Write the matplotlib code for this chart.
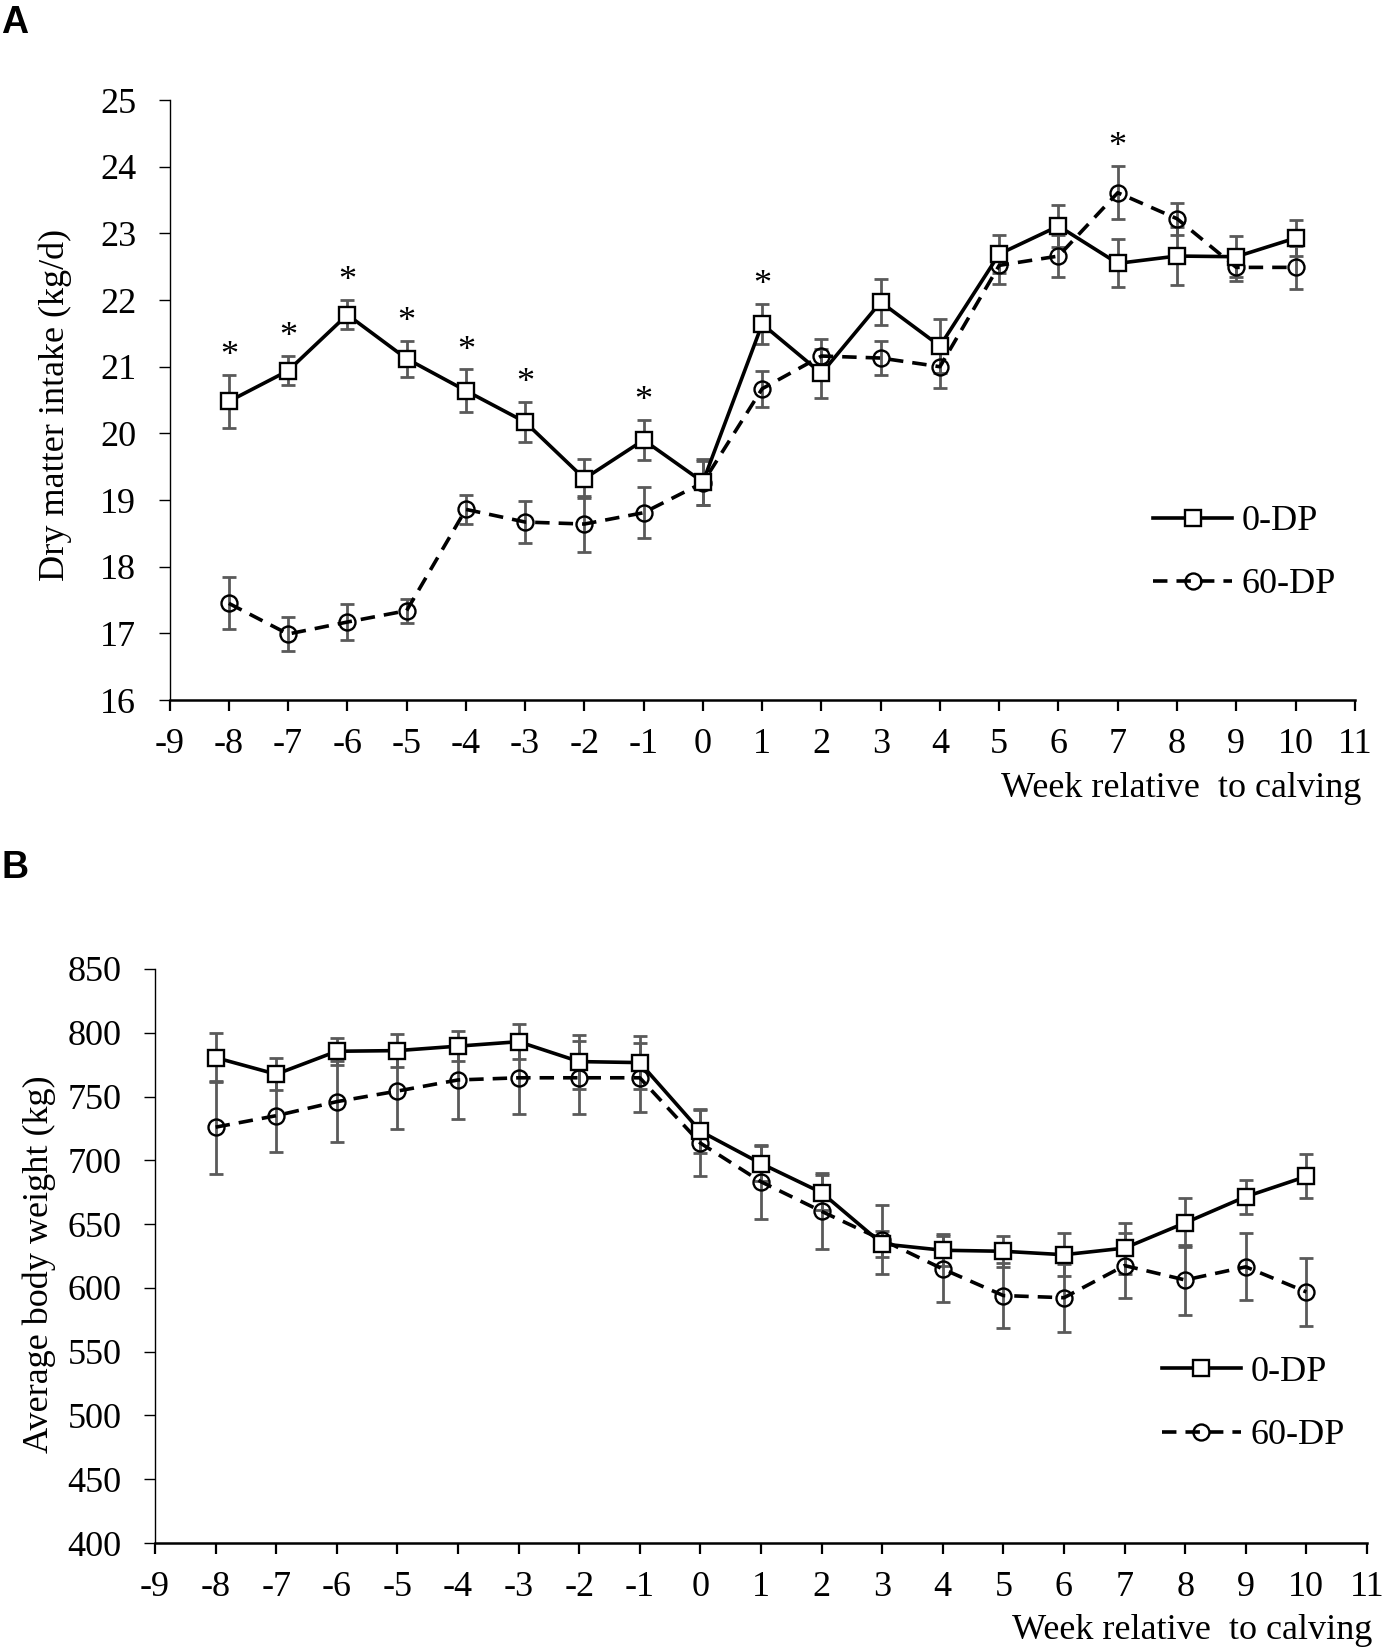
import numpy as np
import matplotlib
matplotlib.use("Agg")
import matplotlib.pyplot as plt

plt.rcParams['font.family'] = ['Liberation Serif', 'DejaVu Serif']
plt.rcParams['axes.unicode_minus'] = False

weeks = [-8, -7, -6, -5, -4, -3, -2, -1, 0, 1, 2, 3, 4, 5, 6, 7, 8, 9, 10]
xticks = list(range(-9, 12))

# panel A: dry matter intake (kg/d)
dmi_0dp = [20.48, 20.94, 21.78, 21.12, 20.64, 20.17, 19.32, 19.90, 19.27, 21.64,
           20.90, 21.97, 21.31, 22.69, 23.11, 22.55, 22.66, 22.65, 22.93]
dmi_0dp_se = [0.40, 0.22, 0.22, 0.27, 0.32, 0.30, 0.29, 0.30, 0.35, 0.30,
              0.37, 0.35, 0.40, 0.29, 0.32, 0.36, 0.43, 0.31, 0.27]
dmi_60dp = [17.45, 16.99, 17.17, 17.34, 18.86, 18.67, 18.64, 18.81, 19.26, 20.67,
            21.16, 21.13, 21.00, 22.52, 22.66, 23.61, 23.22, 22.49, 22.49]
dmi_60dp_se = [0.39, 0.26, 0.27, 0.18, 0.22, 0.32, 0.42, 0.38, 0.33, 0.27,
               0.25, 0.25, 0.32, 0.28, 0.32, 0.40, 0.24, 0.20, 0.32]
dmi_signif = [-8, -7, -6, -5, -4, -3, -1, 1, 7]

# panel B: body weight (kg)
bw_0dp = [780.5, 767.5, 785.5, 786.0, 789.5, 793.0, 777.4, 776.6, 722.8, 697.5,
          674.7, 634.5, 629.5, 628.7, 626.0, 631.2, 651.0, 671.5, 687.4]
bw_0dp_se = [19.4, 12.4, 10.4, 13.0, 11.7, 13.7, 21.2, 20.5, 17.3, 13.7,
             14.0, 10.0, 12.5, 12.0, 17.0, 20.0, 19.3, 13.4, 17.3]
bw_60dp = [726.0, 735.0, 746.0, 754.3, 763.0, 764.7, 764.7, 764.7, 713.5, 683.2,
           660.0, 637.7, 614.8, 594.0, 592.3, 617.5, 606.2, 616.5, 596.8]
bw_60dp_se = [36.5, 28.5, 31.9, 29.8, 30.6, 28.5, 28.5, 27.2, 25.9, 29.2,
              29.8, 27.2, 25.6, 25.3, 26.8, 25.3, 27.7, 26.2, 27.0]

fs = 26
err_col = '#5a5a5a'

fig = plt.figure(figsize=(13.83, 16.51), dpi=100)
axA = fig.add_axes([0.1226, 0.5760, 0.8570, 0.3634])
axB = fig.add_axes([0.1121, 0.0654, 0.8763, 0.3477])


def draw_panel(ax, y0, e0, y1, e1, ylim, yticks):
    ax.errorbar(weeks, y0, yerr=e0, fmt='none', ecolor=err_col, elinewidth=2.0,
                capsize=5, capthick=2.0, zorder=1)
    ax.errorbar(weeks, y1, yerr=e1, fmt='none', ecolor=err_col, elinewidth=2.0,
                capsize=5, capthick=2.0, zorder=1)
    ax.plot(weeks, y1, color='black', lw=2.6, ls=(0, (4, 2.5)), marker='o',
            ms=11.5, mfc='none', mec='black', mew=1.7, label='60-DP', zorder=3)
    ax.plot(weeks, y0, color='black', lw=2.6, ls='-', marker='s',
            ms=12, mfc='white', mec='black', mew=1.7, label='0-DP', zorder=4)
    ax.set_xlim(-9, 11)
    ax.set_ylim(*ylim)
    ax.set_xticks(xticks)
    ax.set_yticks(yticks)
    for s in ['top', 'right']:
        ax.spines[s].set_visible(False)
    ax.spines['left'].set_linewidth(1.0)
    ax.spines['bottom'].set_linewidth(1.8)
    ax.tick_params(axis='x', direction='out', length=8, width=1.6, pad=12, labelsize=fs)
    ax.tick_params(axis='y', direction='out', length=8, width=1.0, pad=16, labelsize=fs)
    h, l = ax.get_legend_handles_labels()
    return h[::-1], l[::-1]


h, l = draw_panel(axA, dmi_0dp, dmi_0dp_se, dmi_60dp, dmi_60dp_se, (16, 25), range(16, 26))
axA.legend(h, l, loc='upper left', bbox_to_anchor=(0.8337, 0.6942),
           bbox_transform=fig.transFigure, frameon=False, fontsize=fs,
           handlelength=2.2, handletextpad=0.25, borderpad=0, borderaxespad=0,
           labelspacing=0.83)
for wk in dmi_signif:
    i = weeks.index(wk)
    top = max(dmi_0dp[i] + dmi_0dp_se[i], dmi_60dp[i] + dmi_60dp_se[i])
    axA.annotate('*', xy=(wk, top), xytext=(0, 7), textcoords='offset points',
                 ha='center', va='baseline', fontsize=fs)
axA.set_ylabel('Dry matter intake (kg/d)', fontsize=fs, va='center')
axA.yaxis.set_label_coords(-0.0967, 0.491)
axA.set_xlabel('Week relative  to calving', fontsize=fs, ha='right', va='center')
axA.xaxis.set_label_coords(1.0053, -0.1467)

h, l = draw_panel(axB, bw_0dp, bw_0dp_se, bw_60dp, bw_60dp_se, (400, 850), range(400, 851, 50))
axB.legend(h, l, loc='upper left', bbox_to_anchor=(0.840, 0.1788),
           bbox_transform=fig.transFigure, frameon=False, fontsize=fs,
           handlelength=2.2, handletextpad=0.25, borderpad=0, borderaxespad=0,
           labelspacing=0.83)
axB.set_ylabel('Average body weight (kg)', fontsize=fs, va='center')
axB.yaxis.set_label_coords(-0.0957, 0.486)
axB.set_xlabel('Week relative  to calving', fontsize=fs, ha='right', va='center')
axB.xaxis.set_label_coords(1.0041, -0.1516)

fig.text(0.001, 0.997, 'A', fontsize=27, fontweight='bold', family='Liberation Sans',
         ha='left', va='top')
fig.text(0.001, 0.485, 'B', fontsize=27, fontweight='bold', family='Liberation Sans',
         ha='left', va='top')

fig.savefig('out.png', dpi=100)
